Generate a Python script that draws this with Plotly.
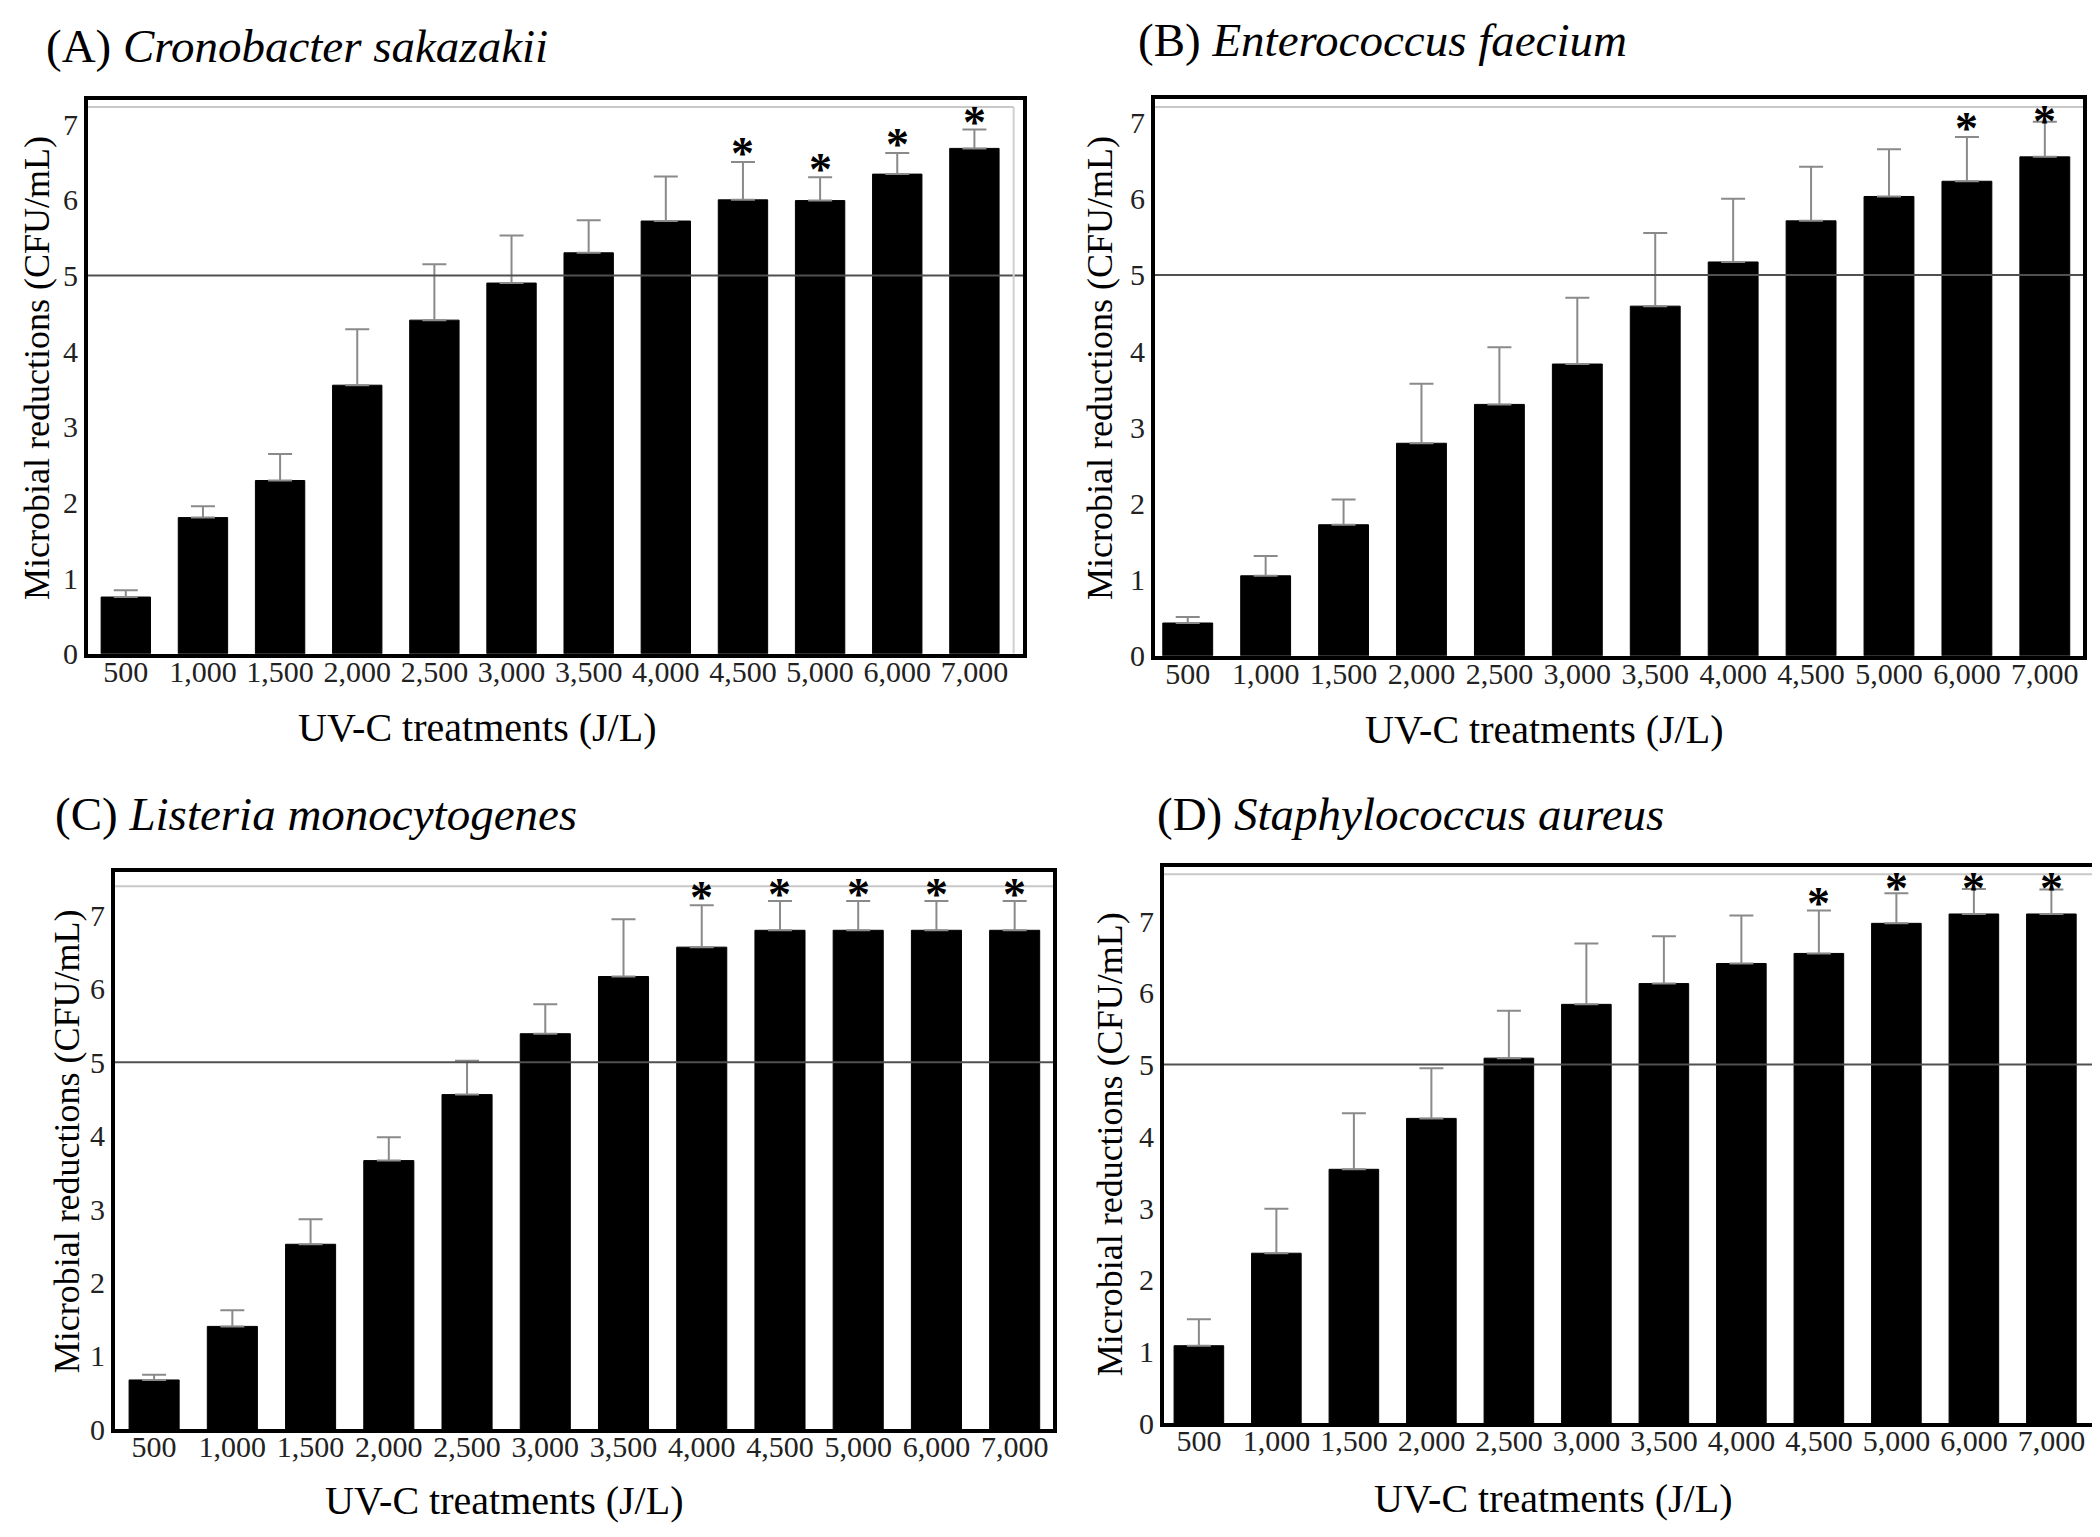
import plotly.graph_objects as go

W, H = 2100, 1537

categories = ["500", "1,000", "1,500", "2,000", "2,500", "3,000",
              "3,500", "4,000", "4,500", "5,000", "6,000", "7,000"]

a_mean = [0.75, 1.80, 2.29, 3.55, 4.41, 4.90, 5.30, 5.72, 6.00, 5.99, 6.34, 6.68]
a_err = [0.09, 0.15, 0.35, 0.74, 0.74, 0.63, 0.43, 0.59, 0.50, 0.31, 0.28, 0.25]
a_sig = [0, 0, 0, 0, 0, 0, 0, 0, 1, 1, 1, 1]

b_mean = [0.43, 1.05, 1.72, 2.79, 3.30, 3.83, 4.59, 5.17, 5.71, 6.03, 6.23, 6.55]
b_err = [0.08, 0.26, 0.33, 0.78, 0.75, 0.87, 0.96, 0.83, 0.71, 0.62, 0.58, 0.46]
b_sig = [0, 0, 0, 0, 0, 0, 0, 0, 0, 0, 1, 1]

c_mean = [0.67, 1.40, 2.52, 3.66, 4.56, 5.39, 6.17, 6.57, 6.80, 6.80, 6.80, 6.80]
c_err = [0.07, 0.22, 0.34, 0.32, 0.46, 0.40, 0.78, 0.57, 0.40, 0.40, 0.40, 0.40]
c_sig = [0, 0, 0, 0, 0, 0, 0, 1, 1, 1, 1, 1]

d_mean = [1.08, 2.37, 3.54, 4.25, 5.09, 5.84, 6.13, 6.41, 6.55, 6.97, 7.10, 7.10]
d_err = [0.37, 0.62, 0.78, 0.70, 0.66, 0.85, 0.66, 0.67, 0.60, 0.42, 0.35, 0.34]
d_sig = [0, 0, 0, 0, 0, 0, 0, 0, 1, 1, 1, 1]

panel_letters = ["A", "B", "C", "D"]
species = ["Cronobacter sakazakii", "Enterococcus faecium",
           "Listeria monocytogenes", "Staphylococcus aureus"]
x_title = "UV-C treatments (J/L)"
y_title = "Microbial reductions (CFU/mL)"
threshold = 5

FONT = "Liberation Serif"

# layout of each panel in pixels: left, right, top, bottom of plot frame
panels = [
    dict(mean=a_mean, err=a_err, sig=a_sig, box=(80, 1015, 93, 653), xr=(-0.49, 11.63), ymax=7.32,
         title_xy=(36, 38), xt=(469, 728), yt=(29, 364), gray_off=7, right_gray=True),
    dict(mean=b_mean, err=b_err, sig=b_sig, box=(1147, 2075, 92, 655), xr=(-0.42, 11.49), ymax=7.31,
         title_xy=(1128, 32), xt=(1536, 730), yt=(1092, 364), gray_off=8, right_gray=False),
    dict(mean=c_mean, err=c_err, sig=c_sig, box=(107, 1045, 874, 1437), xr=(-0.50, 11.49), ymax=7.59,
         title_xy=(45, 815), xt=(496, 1509), yt=(59, 1146), gray_off=14, right_gray=False),
    dict(mean=d_mean, err=d_err, sig=d_sig, box=(1156, 2086, 869, 1431), xr=(-0.45, 11.55), ymax=7.75,
         title_xy=(1147, 815), xt=(1545, 1507), yt=(1102, 1149), gray_off=7, right_gray=False),
]


def px(x):
    return x / W


def py(y):
    return 1 - y / H


fig = go.Figure()
annotations = []
shapes = []

for i, p in enumerate(panels):
    n = "" if i == 0 else str(i + 1)
    xa, ya = "x" + n, "y" + n
    l, r, t, b = p["box"]
    fig.add_trace(go.Bar(
        x=categories, y=p["mean"], xaxis=xa, yaxis=ya,
        marker=dict(color="black", line=dict(color="black", width=1)),
        width=0.64, showlegend=False,
        error_y=dict(type="data", symmetric=False, array=p["err"],
                     arrayminus=[0] * len(p["err"]),
                     color="#8a8a8a", thickness=2, width=12),
    ))
    axis_common = dict(showline=True, mirror=True, linecolor="black", linewidth=4,
                       showgrid=False, zeroline=False, ticks="", ticklen=0,
                       tickfont=dict(family=FONT, size=30, color="#222"))
    fig.update_layout(**{
        ("xaxis" + n): dict(domain=[px(l), px(r)], anchor=ya, type="category",
                            range=list(p["xr"]), ticklabelstandoff=-12, **axis_common),
        ("yaxis" + n): dict(domain=[py(b), py(t)], anchor=xa, range=[0, p["ymax"]],
                            tickvals=list(range(0, 8)), **axis_common),
    })
    # threshold line
    shapes.append(dict(type="line", xref=xa + " domain", yref=ya, x0=0, x1=1,
                       y0=threshold, y1=threshold, line=dict(color="#505050", width=2)))
    # thin gray inner top line
    gy = p["ymax"] * (1 - p["gray_off"] / (b - t))
    shapes.append(dict(type="line", xref=xa + " domain", yref=ya, x0=0, x1=0.99 if p["right_gray"] else 1,
                       y0=gy, y1=gy, line=dict(color="#c8c8c8", width=2)))
    if p["right_gray"]:
        shapes.append(dict(type="line", xref=xa + " domain", yref=ya, x0=0.99, x1=0.99,
                           y0=0, y1=gy, line=dict(color="#d0d0d0", width=2)))
    # significance asterisks
    for cat, m, e, s in zip(categories, p["mean"], p["err"], p["sig"]):
        if s:
            yy = min(m + e + 0.2, p["ymax"] - 0.2)
            annotations.append(dict(x=cat, y=yy, xref=xa, yref=ya, text="<b>*</b>",
                                    showarrow=False, yanchor="middle", yshift=-7,
                                    font=dict(family=FONT, size=46, color="black")))
    # panel title
    tx, ty = p["title_xy"]
    annotations.append(dict(x=px(tx), y=py(ty), xref="paper", yref="paper",
                            xanchor="left", yanchor="middle", showarrow=False,
                            text="(" + panel_letters[i] + ") <i>" + species[i] + "</i>",
                            font=dict(family=FONT, size=47, color="black")))
    # axis titles
    annotations.append(dict(x=px(p["xt"][0]), y=py(p["xt"][1]), xref="paper", yref="paper",
                            xanchor="center", yanchor="middle", showarrow=False, text=x_title,
                            font=dict(family=FONT, size=40, color="black")))
    annotations.append(dict(x=px(p["yt"][0]), y=py(p["yt"][1]), xref="paper", yref="paper",
                            xanchor="center", yanchor="middle", showarrow=False, text=y_title,
                            textangle=-90, font=dict(family=FONT, size=36, color="black")))

fig.update_layout(width=W, height=H, margin=dict(l=0, r=0, t=0, b=0),
                  paper_bgcolor="white", plot_bgcolor="white",
                  annotations=annotations, shapes=shapes, bargap=0.36)

fig.write_html("out.html")
